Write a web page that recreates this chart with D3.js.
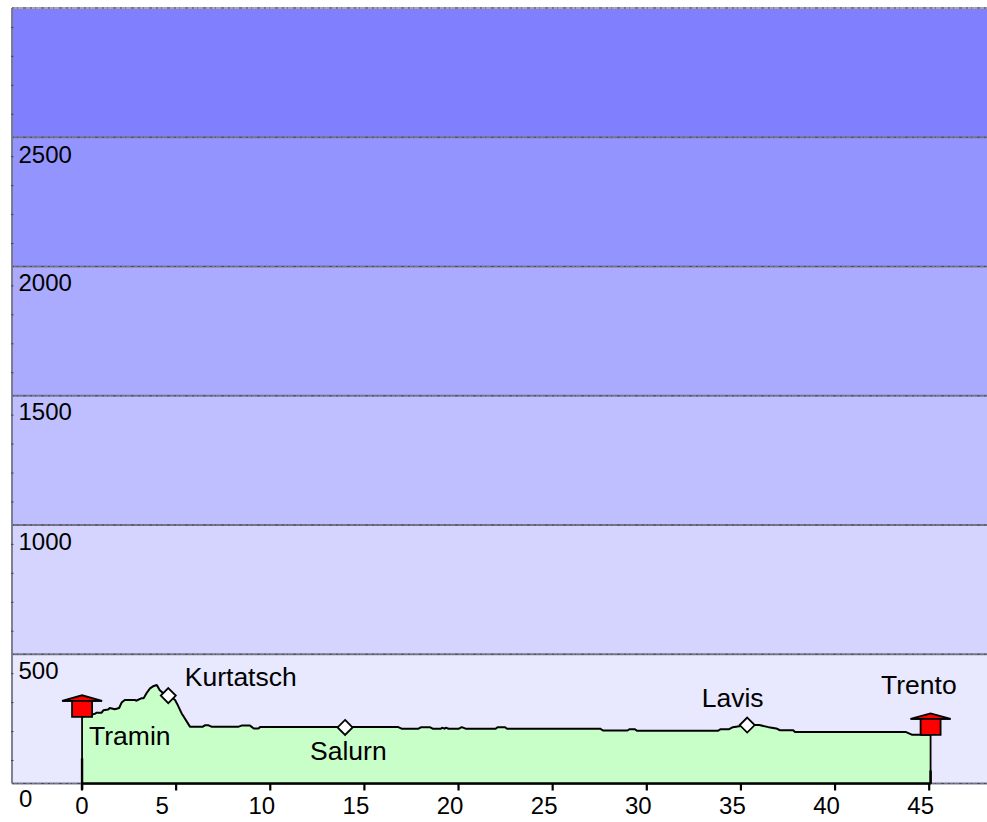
<!DOCTYPE html>
<html><head><meta charset="utf-8">
<script src="https://cdn.jsdelivr.net/npm/d3@7"></script>
<style>
html,body{margin:0;padding:0;background:#fff}
svg{display:block}
text{font-family:"Liberation Sans",Arial,sans-serif;fill:#000}
</style></head><body><svg id="c" width="987" height="822"></svg>
<script>
const bandTicks = [0,500,1000,1500,2000,2500,3000];
const bandColors = ["#e8e8ff","#d4d4ff","#bfbfff","#aaaaff","#9494ff","#8080ff"];
const yLabels = [0,500,1000,1500,2000,2500];
const xTicks = [0,5,10,15,20,25,30,35,40,45];
const km = [0,0.72,0.8,1.07,1.16,1.42,1.5,1.77,2.0,2.13,2.3,2.85,2.9,3.2,3.3,3.46,3.64,3.8,4.0,4.15,4.3,4.61,4.8,4.97,5.1,5.32,5.4,5.76,6.45,6.55,6.75,6.9,8.35,8.5,8.95,9.15,9.4,9.5,13.5,14,16.8,17,17.9,18.05,18.5,18.65,19.1,19.15,19.3,19.35,19.5,19.55,20.05,20.2,20.4,20.5,22.0,22.1,22.5,22.6,27.55,27.7,29.0,29.1,29.4,29.5,33.8,33.95,34.4,34.6,35.36,36.0,36.5,36.9,37.1,37.8,37.9,43.8,44.1,45.1];
const elevation = [258,270,274,274,283,286,292,287,292,313,323,323,320,330,330,350,368,376,381,362,352,340,332,323,305,271,262,220,220,225,225,220,220,224,224,213,213,219,219,219,219,212,212,218,218,212,212,216,212,216,212,212,212,218,212,212,212,218,218,212,212,205,205,210,210,204,204,210,210,218,226,226,218,213,206,206,199,199,189,189];
const stopNames = ["Tramin","Kurtatsch","Salurn","Lavis","Trento"];
const stopKm = [0.03,4.61,14,35.36,45.1];
const stopElev = [258,340,217,226,188];
const stopType = ["end","mid","mid","mid","end"];
const minorOffsets = [89,201,313,425];

const svg=d3.select("#c");
const x=d3.scaleLinear().domain([0,45]).range([81.5,928.7]);
const y=d3.scaleLinear().domain([0,3000]).range([783.5,8]);
const pl=12, pr=987;

svg.selectAll("rect.band").data(bandColors).join("rect").attr("class","band")
  .attr("x",pl).attr("width",pr-pl)
  .attr("y",(d,i)=>y(bandTicks[i+1])).attr("height",(d,i)=>y(bandTicks[i])-y(bandTicks[i+1]))
  .attr("fill",d=>d);

const grid=svg.append("g");
grid.selectAll("line.g").data(bandTicks).join("line").attr("class","g")
  .attr("x1",pl).attr("x2",pr).attr("y1",d=>y(d)).attr("y2",d=>y(d))
  .attr("stroke",d=>d===3000?"#a4a4aa":"#76768a").attr("stroke-width",1.8);
grid.selectAll("line.o").data(bandTicks).join("line").attr("class","o")
  .attr("x1",pl).attr("x2",pr).attr("y1",d=>y(d)).attr("y2",d=>y(d))
  .attr("stroke","#4c4c58").attr("stroke-width",1).attr("stroke-dasharray","2 3 1 5 3 4");
grid.append("line").attr("x1",pl).attr("x2",pl).attr("y1",y(3000)).attr("y2",y(0))
  .attr("stroke","#74748a").attr("stroke-width",1.8);
const minors=bandTicks.slice(0,-1).flatMap(b=>minorOffsets.map(o=>b+o));
grid.selectAll("line.minor").data(minors).join("line").attr("class","minor")
  .attr("x1",pl-1).attr("x2",pl+1.5).attr("y1",d=>y(d)).attr("y2",d=>y(d)).attr("stroke","#44444f");

const area=d3.area().x((d,i)=>x(km[i])).y0(y(0)).y1(d=>y(d));
svg.append("path").attr("d",area(elevation)).attr("fill","#c8ffc8");
const line=d3.line().x((d,i)=>x(km[i])).y(d=>y(d));
svg.append("path").attr("d",line(elevation)).attr("fill","none").attr("stroke","#000").attr("stroke-width",2).attr("stroke-linejoin","bevel");

const axisG=svg.append("g").attr("transform",`translate(0,${y(0)})`);
const axis=d3.axisBottom(x).tickValues(xTicks).tickSize(7).tickPadding(3).tickFormat(d3.format("d"));
axisG.call(axis);
axisG.select(".domain").attr("d",`M${x(0)},0H${x(45.1)}`).attr("stroke","#000").attr("stroke-width",2.4);
axisG.selectAll(".tick line").attr("stroke","#000").attr("stroke-width",2.2);
axisG.selectAll(".tick text")
  .style("font-size","24px").attr("fill","#000").attr("y",13)
  .attr("dx",d=>d===0?0:d===5?-14:-8.5);

[0,4].forEach(i=>{
  const px=x(stopKm[i]);
  svg.append("line").attr("x1",px).attr("x2",px).attr("y1",y(stopElev[i])).attr("y2",y(0)).attr("stroke","#000").attr("stroke-width",1.8);
  svg.append("line").attr("x1",px).attr("x2",px).attr("y1",y(0)-(i===0?25:13)).attr("y2",y(0)+(i===0?6:0)).attr("stroke","#000").attr("stroke-width",2.4);
});

svg.selectAll("text.yl").data(yLabels).join("text").attr("class","yl")
  .attr("x",d=>d===0?19:18.5)
  .attr("y",d=>d===0?y(0)+23:y(d)+(d===2500?26:24.5))
  .style("font-size","24px").text(d=>d);

const mg=svg.append("g");
stopNames.forEach((n,i)=>{
  const px=x(stopKm[i]), py=y(stopElev[i]);
  if(stopType[i]==="end"){
    mg.append("path").attr("transform",`translate(${px},${py})`)
      .attr("d","M-10,0V-16H-20L0,-21.5L20,-16H10V0Z")
      .attr("fill","#ff0000").attr("stroke","#000").attr("stroke-width",1.8).attr("stroke-linejoin","miter");
    mg.append("line").attr("x1",px-20).attr("x2",px+20).attr("y1",py-16).attr("y2",py-16).attr("stroke","#000").attr("stroke-width",1.8);
  } else {
    mg.append("path").attr("transform",`translate(${px},${py})`)
      .attr("d","M0,-7.5L7.5,0L0,7.5L-7.5,0Z")
      .attr("fill","#fff").attr("stroke","#000").attr("stroke-width",1.8);
  }
});

const labelDX=[7,16.5,-35,-45.5,-49.5];
const labelDY=[28,-10,33,-18,-41];
svg.selectAll("text.pl").data(stopNames).join("text").attr("class","pl")
  .attr("x",(d,i)=>x(stopKm[i])+labelDX[i])
  .attr("y",(d,i)=>y(stopElev[i])+labelDY[i])
  .style("font-size","26.5px").text(d=>d);
</script></body></html>
